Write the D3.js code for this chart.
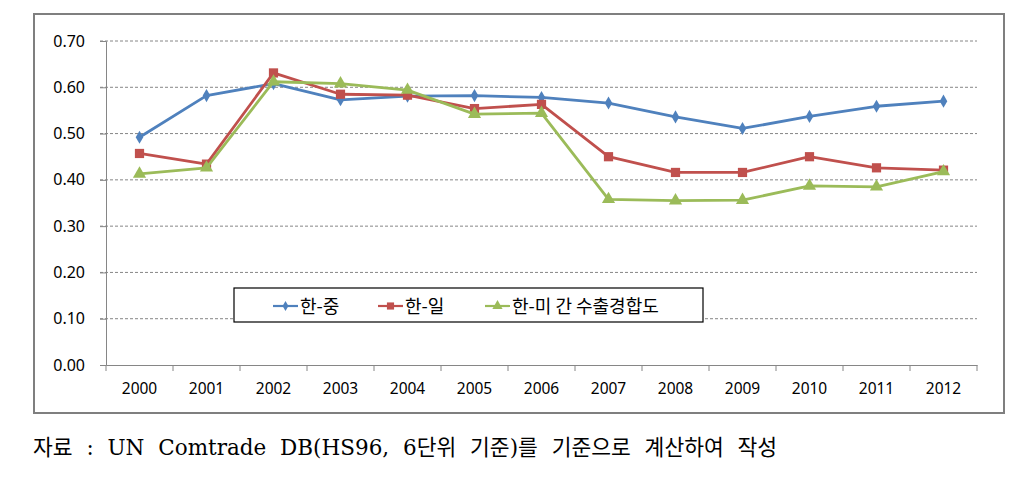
<!DOCTYPE html>
<html><head><meta charset="utf-8">
<script src="https://cdn.jsdelivr.net/npm/d3@7"></script>
<style>body{margin:0;background:#fff}</style>
</head><body>
<svg id="c" width="1025" height="490"></svg>
<script>
const years = ["2000","2001","2002","2003","2004","2005","2006","2007","2008","2009","2010","2011","2012"];
const chinaValues = [0.492,0.582,0.608,0.573,0.581,0.582,0.578,0.566,0.536,0.511,0.537,0.559,0.570];
const japanValues = [0.457,0.434,0.631,0.585,0.583,0.554,0.563,0.450,0.416,0.416,0.450,0.426,0.421];
const usaValues   = [0.413,0.426,0.612,0.608,0.594,0.542,0.544,0.358,0.355,0.356,0.387,0.385,0.418];
const seriesNames = ["한-중","한-일","한-미 간 수출경합도"];
const yTicks = [0,0.1,0.2,0.3,0.4,0.5,0.6,0.7];
const caption = "자료 : UN Comtrade DB(HS96, 6단위 기준)를 기준으로 계산하여 작성";

const svg = d3.select("#c");
const colors = ["#4F81BD","#C0504D","#9BBB59"];
const series = [chinaValues, japanValues, usaValues];
const fmt = d3.format(".2f");

// outer frame
svg.append("rect").attr("x",34).attr("y",14).attr("width",970).attr("height",399)
  .attr("fill","#fff").attr("stroke","#7f7f7f").attr("stroke-width",2);

const x = d3.scaleBand().domain(years).range([106,977]);
const y = d3.scaleLinear().domain([0,0.7]).range([365,41]);

// gridlines
svg.append("g").selectAll("line").data(yTicks.filter(d=>d>0)).join("line")
  .attr("x1",100).attr("x2",977).attr("y1",d=>y(d)).attr("y2",d=>y(d))
  .attr("stroke","#868686").attr("stroke-width",1).attr("stroke-dasharray","3,2");

// y axis
const yAxis = svg.append("g").attr("transform","translate(106,0)")
  .call(d3.axisLeft(y).tickValues(yTicks).tickFormat("").tickSize(6));
yAxis.select(".domain").attr("stroke","#868686");
yAxis.selectAll(".tick line").attr("stroke","#868686");
svg.append("g").selectAll("text").data(yTicks).join("text")
  .attr("x",85).attr("y",d=>y(d)).attr("dy","0.35em").attr("text-anchor","end")
  .attr("font-family","Noto Sans, DejaVu Sans, sans-serif").attr("font-size","16px").attr("fill","#000")
  .text(d=>fmt(d));

// x axis
const xAxis = svg.append("g").attr("transform","translate(0,365)")
  .call(d3.axisBottom(x).tickSize(0).tickFormat(""));
xAxis.select(".domain").attr("stroke","#868686");
svg.append("g").selectAll("text").data(years).join("text")
  .attr("x",d=>x(d)+x.bandwidth()/2).attr("y",389).attr("dy","0.35em").attr("text-anchor","middle")
  .attr("font-family","Noto Sans, DejaVu Sans, sans-serif").attr("font-size","15.5px").attr("fill","#000")
  .text(d=>d);
svg.append("g").selectAll("line").data(years.concat(["end"])).join("line")
  .attr("x1",(d,i)=>106+i*x.step()).attr("x2",(d,i)=>106+i*x.step())
  .attr("y1",365).attr("y2",371).attr("stroke","#868686");

const cx = d => x(d)+x.bandwidth()/2;
const line = d3.line().x((d,i)=>cx(years[i])).y(d=>y(d));

const symbols = [d3.symbolDiamond, d3.symbolSquare, d3.symbolTriangle];
const sizes = [50, 85, 75];
series.forEach((vals,k)=>{
  svg.append("path").datum(vals).attr("d",line).attr("fill","none")
    .attr("stroke",colors[k]).attr("stroke-width",2.8).attr("stroke-linejoin","round");
  svg.append("g").selectAll("path").data(vals).join("path")
    .attr("transform",(d,i)=>`translate(${cx(years[i])},${y(d)})`)
    .attr("d",d3.symbol().type(symbols[k]).size(sizes[k]))
    .attr("fill",colors[k]);
});

// legend
svg.append("rect").attr("x",234).attr("y",288).attr("width",469).attr("height",34)
  .attr("fill","#fff").attr("stroke","#000").attr("stroke-width",1.2);
const legX = [273, 378, 485];
seriesNames.forEach((n,k)=>{
  const g = svg.append("g").attr("transform",`translate(${legX[k]},306)`);
  g.append("line").attr("x1",0).attr("x2",25).attr("stroke",colors[k]).attr("stroke-width",2.2);
  g.append("path").attr("transform","translate(12.5,0)")
    .attr("d",d3.symbol().type(symbols[k]).size(sizes[k]*0.6)).attr("fill",colors[k]);
  g.append("text").attr("x",27).attr("y",7).text(n)
    .attr("font-family","Noto Sans CJK KR, sans-serif").attr("font-size",18).attr("fill","#000");
});

// caption
svg.append("text").attr("x",33).attr("y",455).text(caption)
  .attr("font-family","DejaVu Serif, Noto Sans CJK KR, serif").attr("font-size",21.5)
  .attr("word-spacing",7).attr("fill","#000");
</script>
</body></html>
